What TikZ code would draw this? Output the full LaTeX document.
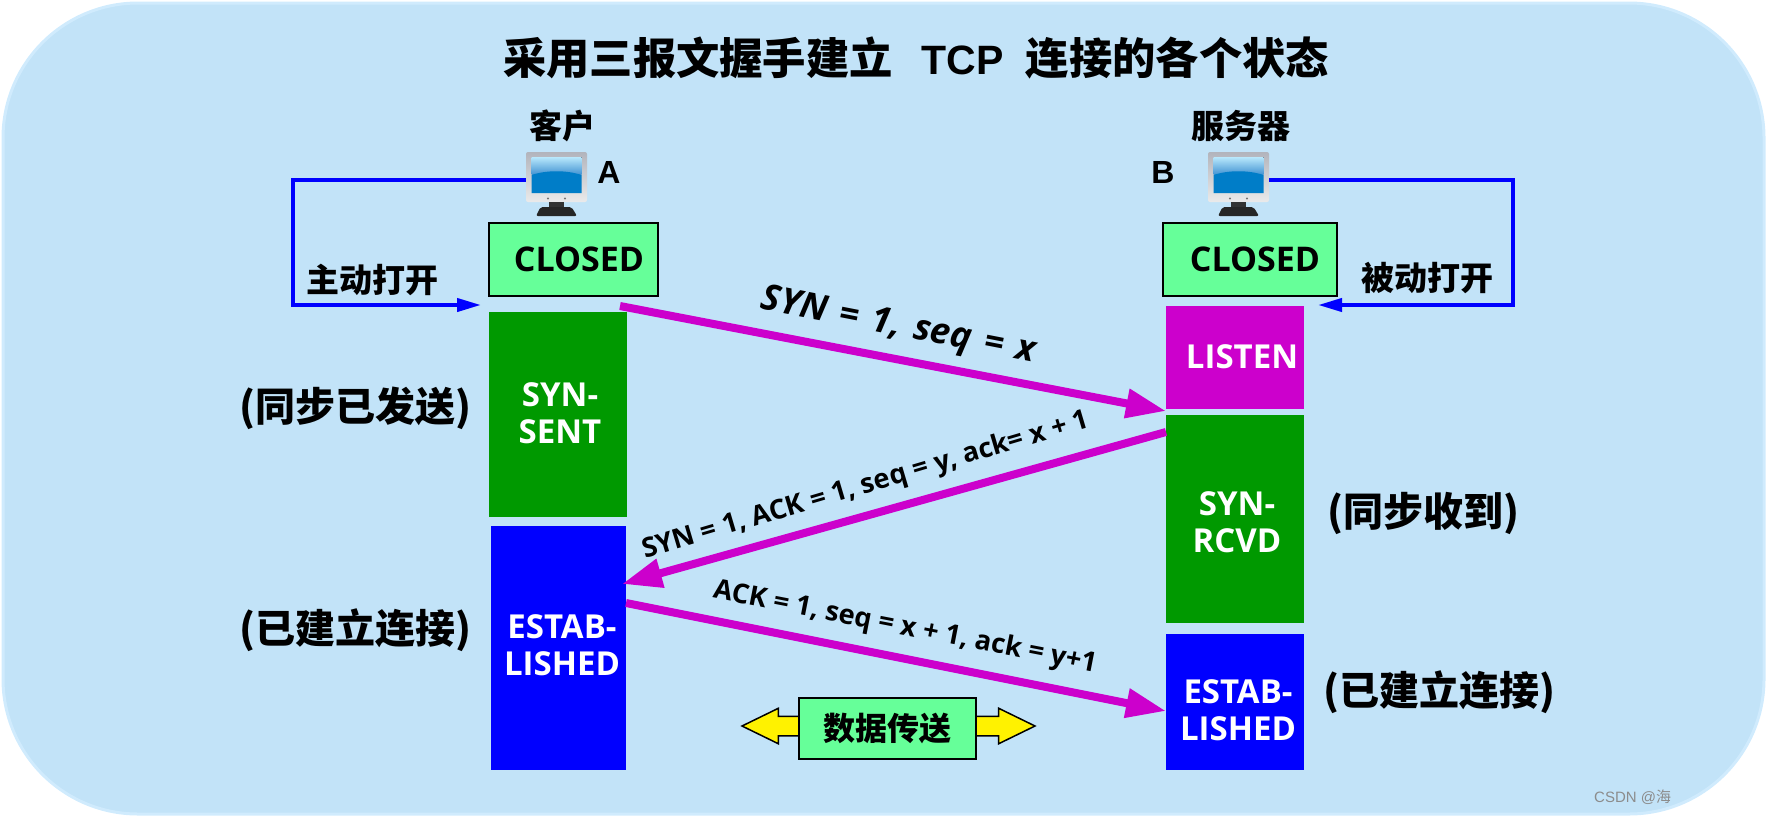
\documentclass[tikz,border=0pt]{standalone}
\usepackage{fontspec}
\setmainfont{Open Sans}
\newfontfamily\cjkfont{Noto Sans CJK SC}
\newfontfamily\tcpfont{Liberation Sans}
\newfontfamily\widefont{Open Sans}[WordSpace=1.4]
\usetikzlibrary{arrows.meta,positioning,shapes.arrows}
\definecolor{PanelBlue}{RGB}{194,227,248}
\definecolor{PanelEdge}{RGB}{208,235,253}
\definecolor{MintBox}{RGB}{102,255,153}
\definecolor{StateGreen}{RGB}{0,153,0}
\definecolor{StateMagenta}{RGB}{204,0,204}
\definecolor{StateBlue}{RGB}{0,0,255}
\definecolor{CaseGray}{RGB}{178,180,188}
\definecolor{ScreenDeep}{RGB}{0,125,200}
\definecolor{ScreenPale}{RGB}{185,232,252}
\definecolor{ScreenMid}{RGB}{70,150,212}
\tikzset{
  pics/monitor/.style={code={
    \node[draw=none, top color=CaseGray, bottom color=black!8, rounded corners=2pt, minimum width=61pt, minimum height=50pt, inner sep=0pt] (-body) at (0,0) {};
    \fill[top color=ScreenPale, bottom color=ScreenMid] (-25,-20) rectangle (25,-3);
    \fill[ScreenDeep] (-25,-2) .. controls (-10,-7) and (10,-7) .. (25,-2) -- (25,16) -- (-25,16) -- cycle;
    \fill[black!55] (-8.5,21.5) circle (1.2) (8.5,21.5) circle (1.2);
    \fill[black!80] (-8,25) rectangle (7,31);
    \fill[black!85, rounded corners=2pt] (-20.5,39) -- (-16,30) -- (15,30) -- (20.5,39) -- cycle;
  }}
}
\begin{document}
\begin{tikzpicture}[x=1pt, y=-1pt,
    mintbox/.style={draw=black, line width=2pt, fill=MintBox, inner sep=0pt},
    statebox/.style={inner sep=0pt},
    statetext/.style={inner sep=0pt, align=center, text=white, font=\fontsize{33}{37}\selectfont\bfseries},
    cjklabel/.style={inner sep=0pt, font=\fontsize{33}{38}\selectfont\cjkfont\bfseries},
    sidelabel/.style={inner sep=0pt, font=\fontsize{40}{44}\selectfont\cjkfont\bfseries},
    msgarrow/.style={-{Triangle[length=40pt,width=28pt]}, line width=8pt, draw=StateMagenta},
    openarrow/.style={-{Triangle[length=24pt,width=13pt]}, line width=4pt, draw=StateBlue},
    msglabel/.style={inner sep=0pt, font=\fontsize{27.2}{32}\selectfont\bfseries}
  ]
    \useasboundingbox (0,0) rectangle (1766,817);
    \path[fill=PanelBlue, draw=PanelEdge, line width=3pt, rounded corners=135pt] (3,3) rectangle (1764,814);

    \node[inner sep=0pt, font=\fontsize{43.3}{48}\selectfont\bfseries] (title) at (916,58) {\cjkfont 采用三报文握手建立\hspace{29pt}{\fontsize{41}{48}\selectfont\tcpfont TCP}\hspace{22pt}连接的各个状态};

    \node[cjklabel] (clientname) at (562,126) {客户};
    \node[cjklabel] (servername) at (1241,126) {服务器};
    \pic (monA) at (556.5,177) {monitor};
    \pic (monB) at (1238.5,177) {monitor};
    \node[inner sep=0pt, font=\fontsize{32}{36}\selectfont\bfseries\tcpfont] (hostA) at (609,172) {A};
    \node[inner sep=0pt, font=\fontsize{32}{36}\selectfont\bfseries\tcpfont] (hostB) at (1163,172) {B};

    % left column
    \node[mintbox, minimum width=169pt, minimum height=73pt] (closedA) at (573.5,259.5) {};
    \node[statebox, fill=StateGreen, minimum width=138pt, minimum height=205pt] (sent) at (558,414.5) {};
    \node[statebox, fill=StateBlue, minimum width=135pt, minimum height=244pt] (estabA) at (558.5,648) {};

    % right column
    \node[mintbox, minimum width=174pt, minimum height=73pt] (closedB) at (1250,259.5) {};
    \node[statebox, fill=StateMagenta, minimum width=138pt, minimum height=103pt] (listen) at (1235,357.5) {};
    \node[statebox, fill=StateGreen, minimum width=138pt, minimum height=208pt] (rcvd) at (1235,519) {};
    \node[statebox, fill=StateBlue, minimum width=138pt, minimum height=136pt] (estabB) at (1235,702) {};

    \node[statetext, text=black, font=\fontsize{34}{38}\selectfont\bfseries] (closedAtext) at (579,259) {CLOSED};
    \node[statetext, text=black, font=\fontsize{34}{38}\selectfont\bfseries] (closedBtext) at (1255,259) {CLOSED};
    \node[statetext] (senttext) at (560,413) {SYN-\\SENT};
    \node[statetext] (estabAtext) at (562,645) {ESTAB-\\LISHED};
    \node[statetext] (listentext) at (1242,357) {LISTEN};
    \node[statetext] (rcvdtext) at (1237,522) {SYN-\\RCVD};
    \node[statetext] (estabBtext) at (1238,710) {ESTAB-\\LISHED};

    \node[sidelabel] (sentnote) at (355,408) {(同步已发送)};
    \node[sidelabel] (estabAnote) at (355,630) {(已建立连接)};
    \node[sidelabel] (rcvdnote) at (1423,513) {(同步收到)};
    \node[sidelabel] (estabBnote) at (1439,692) {(已建立连接)};

    \coordinate (openA) at (481,305);
    \coordinate (openB) at (1318,305);
    \draw[openarrow] ([yshift=-3pt]monA-body.west) -- (293,180) |- (openA);
    \draw[openarrow] ([yshift=-3pt]monB-body.east) -- (1513,180) |- (openB);
    \node[cjklabel] (activeopen) at (372,280) {主动打开};
    \node[cjklabel] (passiveopen) at (1427,278) {被动打开};

    \coordinate (syn1) at (620,306);
    \coordinate (syn2) at (1166,411);
    \coordinate (ack1) at (1166,432);
    \coordinate (ack2) at (622,584);
    \coordinate (fin1) at (626,603);
    \coordinate (fin2) at (1166,711);
    \draw[msgarrow] (syn1) -- (syn2);
    \draw[msgarrow] (ack1) -- (ack2);
    \draw[msgarrow] (fin1) -- (fin2);
    \node[msglabel, rotate=-11, font=\fontsize{36}{40}\selectfont\widefont\bfseries\itshape] (synlabel) at (898,327) {SYN = 1, seq = x};
    \node[msglabel, rotate=16.5] (acklabel) at (866,486) {SYN = 1, ACK = 1, seq = y, ack= x + 1};
    \node[msglabel, rotate=-11] (finlabel) at (905,628) {ACK = 1, seq = x + 1, ack = y+1};

    \node[double arrow, draw=black, line width=1.5pt, fill=yellow, inner xsep=0pt, inner ysep=9pt, minimum height=293pt, double arrow head extend=8pt, double arrow tip angle=52] (dataarrow) at (888.5,726) {};
    \node[mintbox, minimum width=177pt, minimum height=61pt, font=\fontsize{32}{38}\selectfont\cjkfont\bfseries] (data) at (887.5,728.5) {数据传送};

    \node[inner sep=0pt, text=black!45, anchor=west, font=\fontsize{15}{18}\selectfont\tcpfont] (mark) at (1594,797) {CSDN @\cjkfont 海};
\end{tikzpicture}
\end{document}
